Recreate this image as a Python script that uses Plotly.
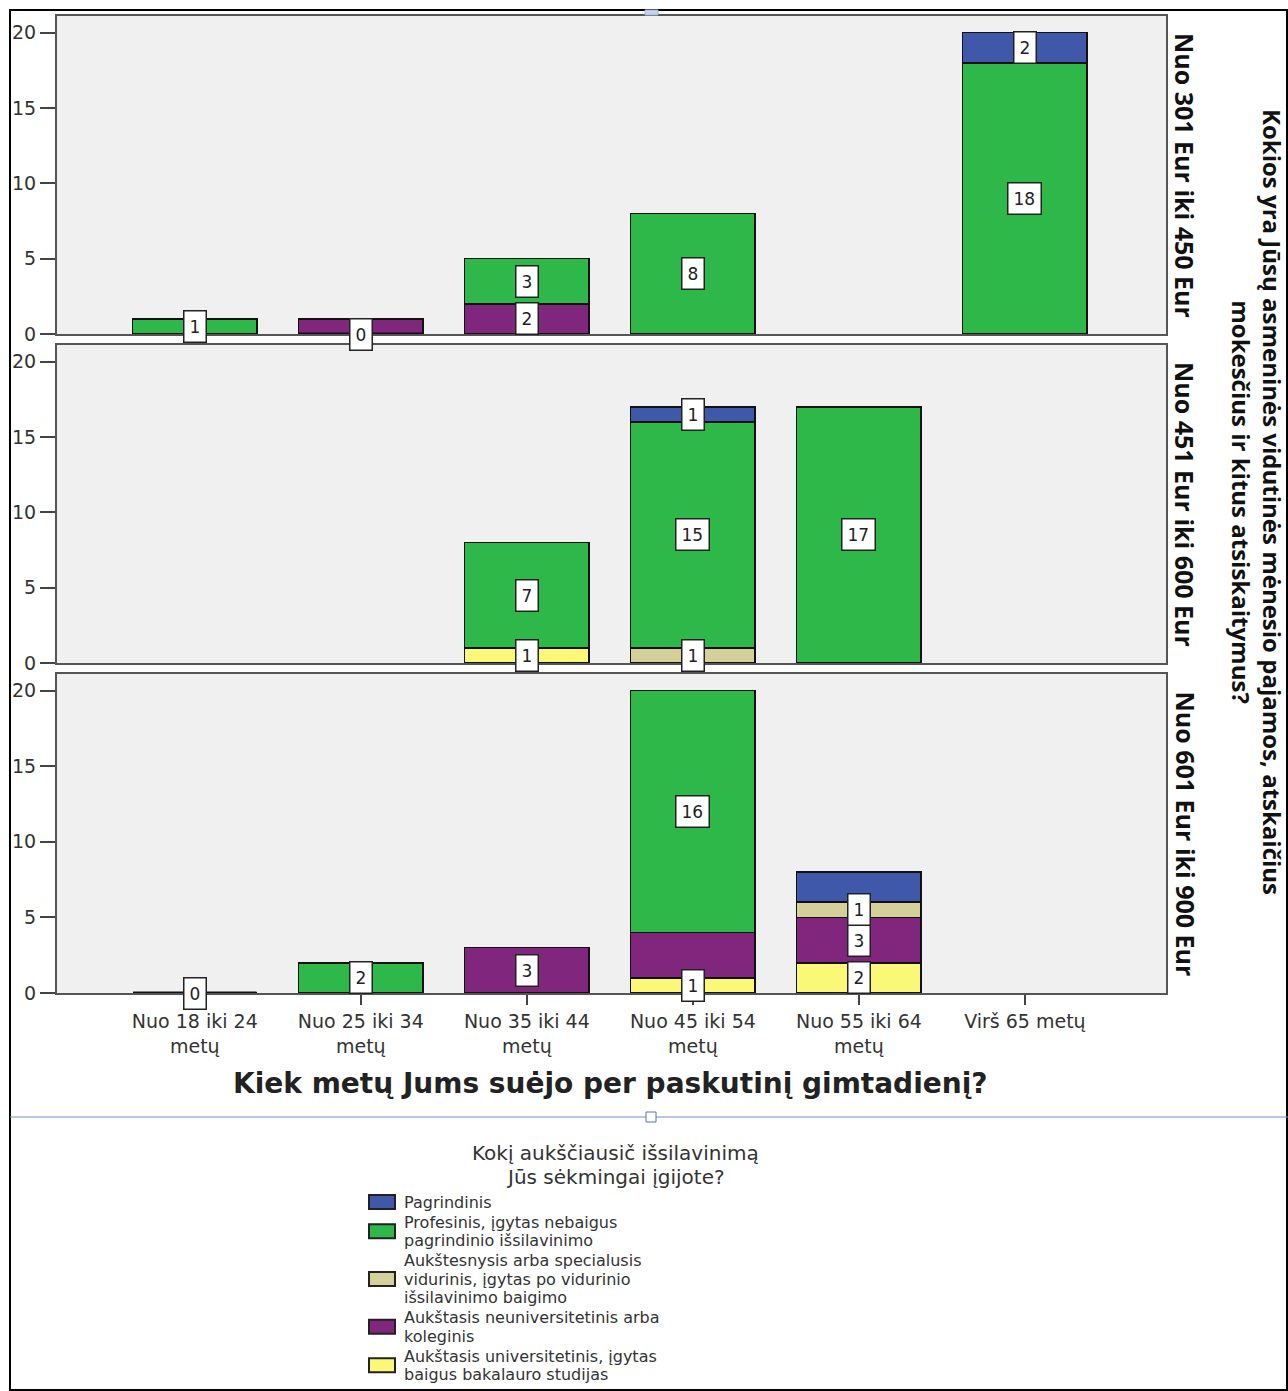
import plotly.graph_objects as go
from plotly.subplots import make_subplots

# ---- categories ----
age_groups = [
    "Nuo 18 iki 24<br>metų",
    "Nuo 25 iki 34<br>metų",
    "Nuo 35 iki 44<br>metų",
    "Nuo 45 iki 54<br>metų",
    "Nuo 55 iki 64<br>metų",
    "Virš 65 metų",
]
income_groups = [
    "Nuo 301 Eur iki 450 Eur",
    "Nuo 451 Eur iki 600 Eur",
    "Nuo 601 Eur iki 900 Eur",
]

# education levels, in stacking order (bottom -> top)
edu_keys = ["universitetinis", "koleginis", "aukstesnysis", "profesinis", "pagrindinis"]
edu_names = {
    "pagrindinis": "Pagrindinis",
    "profesinis": "Profesinis, įgytas nebaigus<br>pagrindinio išsilavinimo",
    "aukstesnysis": "Aukštesnysis arba specialusis<br>vidurinis, įgytas po vidurinio<br>išsilavinimo baigimo",
    "koleginis": "Aukštasis neuniversitetinis arba<br>koleginis",
    "universitetinis": "Aukštasis universitetinis, įgytas<br>baigus bakalauro studijas",
}
edu_colors = {
    "pagrindinis": "#3F58AA",
    "profesinis": "#2EB84A",
    "aukstesnysis": "#D5D09A",
    "koleginis": "#80267D",
    "universitetinis": "#FCF877",
}
legend_order = ["pagrindinis", "profesinis", "aukstesnysis", "koleginis", "universitetinis"]
legend_title = ["Kokį aukščiausič išsilavinimą", "Jūs sėkmingai įgijote?"]

# ---- counts: one row per income panel, one value per age group ----
universitetinis = [
    [None, 0, None, None, None, None],
    [None, None, 1, None, None, None],
    [0, None, None, 1, 2, None],
]
koleginis = [
    [None, 1, 2, None, None, None],
    [None, None, None, None, None, None],
    [None, None, 3, 3, 3, None],
]
aukstesnysis = [
    [None, None, None, None, None, None],
    [None, None, None, 1, None, None],
    [None, None, None, None, 1, None],
]
profesinis = [
    [1, None, 3, 8, None, 18],
    [None, None, 7, 15, 17, None],
    [None, 2, None, 16, None, None],
]
pagrindinis = [
    [None, None, None, None, None, 2],
    [None, None, None, 1, None, None],
    [None, None, None, None, 2, None],
]
counts = {
    "universitetinis": universitetinis,
    "koleginis": koleginis,
    "aukstesnysis": aukstesnysis,
    "profesinis": profesinis,
    "pagrindinis": pagrindinis,
}
# segments drawn without a value box (panel, education, age index)
unlabeled = [(0, "koleginis", 1), (2, "koleginis", 3), (2, "pagrindinis", 4)]

# ---- page geometry (pixels) ----
W, H = 1288, 1391
PL, PR, PT, PB = 57, 1166, 16, 993
PW, PH = PR - PL, PB - PT


def px_x(x):
    return (x - PL) / PW


def px_y(y):
    return (PB - y) / PH


panel_px = [(16, 334), (345, 663), (674, 993)]

fig = make_subplots(rows=3, cols=1, shared_xaxes=True, vertical_spacing=0.01)

FONT = "DejaVu Sans"
BAR_W = 0.75
annotations = []

for p in range(3):
    row = p + 1
    base = [0.0] * len(age_groups)
    for key in edu_keys:
        vals = counts[key][p]
        fig.add_trace(
            go.Bar(
                x=age_groups,
                y=vals,
                width=BAR_W,
                marker=dict(color=edu_colors[key], line=dict(color="#111", width=1.6)),
                name=edu_names[key].replace("<br>", " "),
                showlegend=False,
                hoverinfo="skip",
            ),
            row=row, col=1,
        )
        # zero-count bars show only their outline at the baseline
        zx = [age_groups[i] for i, v in enumerate(vals) if v == 0]
        if zx:
            fig.add_trace(
                go.Scatter(
                    x=zx, y=[0] * len(zx), mode="markers",
                    marker=dict(symbol="line-ew", size=88, line=dict(color="#111", width=3)),
                    showlegend=False, hoverinfo="skip",
                ),
                row=row, col=1,
            )
        for i, v in enumerate(vals):
            if v is None:
                continue
            mid = base[i] + v / 2.0
            if (p, key, i) not in unlabeled:
                annotations.append(dict(
                    x=age_groups[i], y=mid,
                    xref=f"x{row if row > 1 else ''}", yref=f"y{row if row > 1 else ''}",
                    text=str(v), showarrow=False,
                    font=dict(family=FONT, size=17, color="#222"),
                    bgcolor="white", bordercolor="#222", borderwidth=1.5, borderpad=5,
                ))
            base[i] += v

# axes
for p in range(3):
    row = p + 1
    top, bot = panel_px[p]
    fig.update_yaxes(
        domain=[px_y(bot), px_y(top)],
        range=[0, 21.1], tickvals=[0, 5, 10, 15, 20],
        ticks="outside", ticklen=15, tickwidth=2, tickcolor="#444",
        showline=True, linecolor="#555", linewidth=2, mirror=True,
        showgrid=False, zeroline=False,
        tickfont=dict(family=FONT, size=19, color="#333"),
        row=row, col=1,
    )
    fig.update_xaxes(
        range=[-0.83, 5.85],
        showline=True, linecolor="#555", linewidth=2, mirror=True,
        showgrid=False, zeroline=False,
        showticklabels=(row == 3),
        ticks="outside" if row == 3 else "", ticklen=10, tickwidth=2, tickcolor="#444",
        tickfont=dict(family=FONT, size=19, color="#333"),
        row=row, col=1,
    )
    # panel strip label
    annotations.append(dict(
        x=px_x(1185), y=(px_y(top) + px_y(bot)) / 2, xref="paper", yref="paper",
        text=income_groups[p], textangle=90, showarrow=False,
        font=dict(family="Open Sans", size=25, color="#111", weight="bold"),
        xanchor="center", yanchor="middle",
    ))

# right-hand title
annotations.append(dict(
    x=px_x(1257), y=px_y(502), xref="paper", yref="paper",
    text="Kokios yra Jūsų asmeninės vidutinės mėnesio pajamos, atskaičius<br>mokesčius ir kitus atsiskaitymus?",
    textangle=90, showarrow=False,
    font=dict(family="Open Sans", size=24, color="#111", weight="bold"),
    xanchor="center", yanchor="middle",
))

# x axis title
annotations.append(dict(
    x=px_x(610), y=px_y(1083), xref="paper", yref="paper",
    text="Kiek metų Jums suėjo per paskutinį gimtadienį?", showarrow=False,
    font=dict(family="DejaVu Sans", size=28, color="#222", weight="bold"),
    xanchor="center", yanchor="middle",
))

# legend block
shapes = []
for j, line in enumerate(legend_title):
    annotations.append(dict(
        x=px_x(615), y=px_y(1153 + 24 * j), xref="paper", yref="paper",
        text=line, showarrow=False,
        font=dict(family=FONT, size=20, color="#333"),
        xanchor="center", yanchor="middle",
    ))

LINE = 18.5
GAP = 1.5
y_item = 1202
for key in legend_order:
    lines = edu_names[key].split("<br>")
    for k, line in enumerate(lines):
        annotations.append(dict(
            x=px_x(402), y=px_y(y_item + LINE * k), xref="paper", yref="paper",
            text=line, showarrow=False,
            font=dict(family=FONT, size=16, color="#333"),
            xanchor="left", yanchor="middle",
        ))
    yc = y_item + LINE * (len(lines) - 1) / 2
    shapes.append(dict(
        type="rect", xref="paper", yref="paper",
        x0=px_x(369), x1=px_x(395), y0=px_y(yc - 7), y1=px_y(yc + 7),
        fillcolor=edu_colors[key], line=dict(color="#222", width=2),
    ))
    y_item += LINE * len(lines) + GAP

# outer frame and separator
shapes.append(dict(
    type="rect", xref="paper", yref="paper",
    x0=px_x(10), x1=px_x(1287), y0=px_y(1390), y1=px_y(10),
    line=dict(color="#000", width=2), fillcolor="rgba(0,0,0,0)", layer="below",
))
shapes.append(dict(
    type="line", xref="paper", yref="paper",
    x0=px_x(10), x1=px_x(1288), y0=px_y(1117), y1=px_y(1117),
    line=dict(color="#6E8FC0", width=1),
))
shapes.append(dict(
    type="rect", xref="paper", yref="paper",
    x0=px_x(646), x1=px_x(656), y0=px_y(1122), y1=px_y(1112),
    line=dict(color="#4A78C0", width=1), fillcolor="white",
))
shapes.append(dict(
    type="rect", xref="paper", yref="paper",
    x0=px_x(645), x1=px_x(658), y0=px_y(15), y1=px_y(10),
    line=dict(color="#9DB4DA", width=1), fillcolor="#C5D4EC",
))

fig.update_layout(
    width=W, height=H,
    margin=dict(l=PL, r=W - PR, t=PT, b=H - PB),
    barmode="stack",
    plot_bgcolor="#F0F0F0",
    paper_bgcolor="white",
    annotations=annotations,
    shapes=shapes,
    showlegend=False,
)

fig.write_html("out.html")
